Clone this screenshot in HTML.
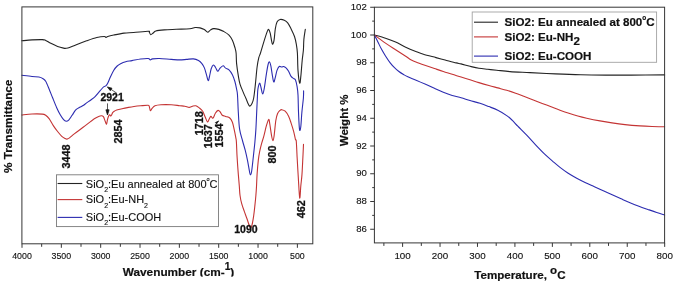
<!DOCTYPE html>
<html><head><meta charset="utf-8"><title>FTIR and TGA</title>
<style>html,body{margin:0;padding:0;background:#fff}svg{display:block;will-change:transform}text{font-family:"Liberation Sans",sans-serif;fill:#111;stroke:#111;stroke-width:.12px}.b{font-weight:bold;stroke-width:.2px}.pk{stroke:#111;stroke-width:.3px}</style>
</head><body>
<svg width="675" height="285" viewBox="0 0 675 285">
<rect x="0" y="0" width="675" height="285" fill="#fff"/>
<g fill="none" stroke-linejoin="round" stroke-linecap="round" stroke-width="1.1">
<path d="M21.80 40.80C23.50 40.65 28.58 40.10 32.00 39.90C35.42 39.70 40.02 39.52 42.30 39.60C44.58 39.68 44.28 39.78 45.70 40.40C47.12 41.02 48.82 42.30 50.80 43.30C52.78 44.30 55.47 45.60 57.60 46.40C59.73 47.20 62.18 47.78 63.60 48.10C65.02 48.42 65.12 48.38 66.10 48.30C67.08 48.22 67.80 48.20 69.50 47.60C71.20 47.00 73.45 45.83 76.30 44.70C79.15 43.57 83.18 42.00 86.60 40.80C90.02 39.60 93.83 38.22 96.80 37.50C99.77 36.78 102.85 36.50 104.40 36.50C105.95 36.50 105.53 37.50 106.10 37.50C106.67 37.50 106.52 36.92 107.80 36.50C109.08 36.08 111.10 35.57 113.80 35.00C116.50 34.43 120.70 33.52 124.00 33.10C127.30 32.68 129.58 32.80 133.60 32.50C137.62 32.20 145.48 31.37 148.10 31.30C150.72 31.23 148.87 31.53 149.30 32.10C149.73 32.67 150.05 34.55 150.70 34.70C151.35 34.85 152.35 33.62 153.20 33.00C154.05 32.38 153.95 31.52 155.80 31.00C157.65 30.48 160.90 30.18 164.30 29.90C167.70 29.62 171.95 29.50 176.20 29.30C180.45 29.10 186.67 29.00 189.80 28.70C192.93 28.40 193.30 27.63 195.00 27.50C196.70 27.37 198.45 27.55 200.00 27.90C201.55 28.25 203.02 28.88 204.30 29.60C205.58 30.32 206.70 32.12 207.70 32.20C208.70 32.28 209.30 30.70 210.30 30.10C211.30 29.50 212.28 28.72 213.70 28.60C215.12 28.48 217.10 28.90 218.80 29.40C220.50 29.90 222.20 30.65 223.90 31.60C225.60 32.55 227.58 33.65 229.00 35.10C230.42 36.55 231.42 38.23 232.40 40.30C233.38 42.37 234.28 45.38 234.90 47.50C235.52 49.62 235.82 50.32 236.10 53.00C236.38 55.68 236.23 59.83 236.60 63.60C236.97 67.37 237.73 72.18 238.30 75.60C238.87 79.02 239.15 81.27 240.00 84.10C240.85 86.93 242.40 90.20 243.40 92.60C244.40 95.00 245.28 96.82 246.00 98.50C246.72 100.18 247.08 101.43 247.70 102.70C248.32 103.97 248.98 105.97 249.70 106.10C250.42 106.23 251.33 104.85 252.00 103.50C252.67 102.15 253.13 101.23 253.70 98.00C254.27 94.77 254.83 89.27 255.40 84.10C255.97 78.93 256.53 71.40 257.10 67.00C257.67 62.60 258.23 60.03 258.80 57.70C259.37 55.37 259.65 55.68 260.50 53.00C261.35 50.32 262.77 45.20 263.90 41.60C265.03 38.00 266.50 33.43 267.30 31.40C268.10 29.37 268.22 29.12 268.70 29.40C269.18 29.68 269.72 31.20 270.20 33.10C270.68 35.00 271.18 38.95 271.60 40.80C272.02 42.65 272.28 44.35 272.70 44.20C273.12 44.05 273.67 42.45 274.10 39.90C274.53 37.35 274.82 31.88 275.30 28.90C275.78 25.92 276.20 23.57 277.00 22.00C277.80 20.43 278.88 19.78 280.10 19.50C281.32 19.22 283.03 19.73 284.30 20.30C285.57 20.87 286.57 21.47 287.70 22.90C288.83 24.33 289.97 26.63 291.10 28.90C292.23 31.17 293.63 33.95 294.50 36.50C295.37 39.05 295.82 41.45 296.30 44.20C296.78 46.95 297.12 48.63 297.40 53.00C297.68 57.37 297.62 65.37 298.00 70.40C298.38 75.43 299.22 82.33 299.70 83.20C300.18 84.07 300.48 79.43 300.90 75.60C301.32 71.77 301.78 64.47 302.20 60.20C302.62 55.93 303.12 53.52 303.40 50.00C303.68 46.48 303.58 42.53 303.90 39.10C304.22 35.67 305.07 31.02 305.30 29.40" stroke="#242424"/>
<path d="M21.80 75.30C23.50 75.50 29.15 76.22 32.00 76.50C34.85 76.78 37.05 76.63 38.90 77.00C40.75 77.37 41.97 77.98 43.10 78.70C44.23 79.42 44.70 79.58 45.70 81.30C46.70 83.02 47.97 86.30 49.10 89.00C50.23 91.70 51.23 94.38 52.50 97.50C53.77 100.62 55.43 104.87 56.70 107.70C57.97 110.53 58.95 112.52 60.10 114.50C61.25 116.48 62.60 118.47 63.60 119.60C64.60 120.73 65.25 121.22 66.10 121.30C66.95 121.38 67.70 121.10 68.70 120.10C69.70 119.10 70.97 116.95 72.10 115.30C73.23 113.65 74.37 111.47 75.50 110.20C76.63 108.93 77.63 108.48 78.90 107.70C80.17 106.92 81.82 106.30 83.10 105.50C84.38 104.70 85.32 103.82 86.60 102.90C87.88 101.98 89.38 101.05 90.80 100.00C92.22 98.95 93.53 98.15 95.10 96.60C96.67 95.05 98.78 92.32 100.20 90.70C101.62 89.08 102.62 87.75 103.60 86.90C104.58 86.05 105.40 86.25 106.10 85.60C106.80 84.95 107.08 84.43 107.80 83.00C108.52 81.57 109.40 79.13 110.40 77.00C111.40 74.87 112.67 72.03 113.80 70.20C114.93 68.37 116.07 67.08 117.20 66.00C118.33 64.92 119.18 64.42 120.60 63.70C122.02 62.98 123.80 62.22 125.70 61.70C127.60 61.18 129.52 61.05 132.00 60.60C134.48 60.15 137.90 59.35 140.60 59.00C143.30 58.65 146.58 58.35 148.20 58.50C149.82 58.65 149.58 59.83 150.30 59.90C151.02 59.97 151.00 59.13 152.50 58.90C154.00 58.67 156.18 58.42 159.30 58.50C162.42 58.58 167.80 59.17 171.20 59.40C174.60 59.63 177.13 59.90 179.70 59.90C182.27 59.90 184.32 59.57 186.60 59.40C188.88 59.23 191.42 58.70 193.40 58.90C195.38 59.10 197.08 59.82 198.50 60.60C199.92 61.38 200.92 62.38 201.90 63.60C202.88 64.82 203.60 65.90 204.40 67.90C205.20 69.90 206.07 73.47 206.70 75.60C207.33 77.73 207.73 80.55 208.20 80.70C208.67 80.85 209.00 78.50 209.50 76.50C210.00 74.50 210.55 70.62 211.20 68.70C211.85 66.78 212.70 65.25 213.40 65.00C214.10 64.75 214.67 66.15 215.40 67.20C216.13 68.25 217.08 71.07 217.80 71.30C218.52 71.53 218.82 69.52 219.70 68.60C220.58 67.68 222.12 65.88 223.10 65.80C224.08 65.72 224.62 67.43 225.60 68.10C226.58 68.77 227.87 68.70 229.00 69.80C230.13 70.90 231.42 72.75 232.40 74.70C233.38 76.65 234.20 79.08 234.90 81.50C235.60 83.92 236.17 86.95 236.60 89.20C237.03 91.45 237.22 91.20 237.50 95.00C237.78 98.80 237.95 106.32 238.30 112.00C238.65 117.68 238.88 124.27 239.60 129.10C240.32 133.93 241.67 137.48 242.60 141.00C243.53 144.52 244.38 146.97 245.20 150.20C246.02 153.43 246.78 156.85 247.50 160.40C248.22 163.95 249.02 169.08 249.50 171.50C249.98 173.92 250.05 174.90 250.40 174.90C250.75 174.90 251.12 174.48 251.60 171.50C252.08 168.52 252.75 161.92 253.30 157.00C253.85 152.08 254.47 146.65 254.90 142.00C255.33 137.35 255.60 134.10 255.90 129.10C256.20 124.10 256.45 117.35 256.70 112.00C256.95 106.65 257.20 100.80 257.40 97.00C257.60 93.20 257.53 91.50 257.90 89.20C258.27 86.90 259.08 83.48 259.60 83.20C260.12 82.92 260.48 85.70 261.00 87.50C261.52 89.30 262.13 94.00 262.70 94.00C263.27 94.00 263.78 90.85 264.40 87.50C265.02 84.15 265.78 77.73 266.40 73.90C267.02 70.07 267.58 66.50 268.10 64.50C268.62 62.50 269.03 61.62 269.50 61.90C269.97 62.18 270.42 63.92 270.90 66.20C271.38 68.48 271.92 72.97 272.40 75.60C272.88 78.23 273.32 81.72 273.80 82.00C274.28 82.28 274.77 79.23 275.30 77.30C275.83 75.37 276.35 72.20 277.00 70.40C277.65 68.60 278.40 67.07 279.20 66.50C280.00 65.93 281.08 67.00 281.80 67.00C282.52 67.00 282.80 66.35 283.50 66.50C284.20 66.65 285.15 67.10 286.00 67.90C286.85 68.70 287.75 69.88 288.60 71.30C289.45 72.72 290.25 75.18 291.10 76.40C291.95 77.62 292.98 78.03 293.70 78.60C294.42 79.17 294.83 78.47 295.40 79.80C295.97 81.13 296.67 84.07 297.10 86.60C297.53 89.13 297.77 90.77 298.00 95.00C298.23 99.23 298.28 106.60 298.50 112.00C298.72 117.40 299.05 124.33 299.30 127.40C299.55 130.47 299.73 130.68 300.00 130.40C300.27 130.12 300.58 128.77 300.90 125.70C301.22 122.63 301.48 116.62 301.90 112.00C302.32 107.38 303.12 101.52 303.40 98.00C303.68 94.48 303.57 92.08 303.60 90.90" stroke="#2c2cb0"/>
<path d="M21.80 115.00C23.50 114.83 28.58 114.15 32.00 114.00C35.42 113.85 40.02 113.88 42.30 114.10C44.58 114.32 44.57 114.53 45.70 115.30C46.83 116.07 47.83 116.98 49.10 118.70C50.37 120.42 51.88 123.47 53.30 125.60C54.72 127.73 56.18 129.72 57.60 131.50C59.02 133.28 60.52 135.12 61.80 136.30C63.08 137.48 64.43 138.13 65.30 138.60C66.17 139.07 66.30 139.22 67.00 139.10C67.70 138.98 68.23 138.82 69.50 137.90C70.77 136.98 72.33 135.37 74.60 133.60C76.87 131.83 80.25 129.45 83.10 127.30C85.95 125.15 89.45 122.32 91.70 120.70C93.95 119.08 95.03 118.42 96.60 117.60C98.17 116.78 99.97 115.95 101.10 115.80C102.23 115.65 102.72 115.78 103.40 116.70C104.08 117.62 104.67 120.07 105.20 121.30C105.73 122.53 106.22 124.40 106.60 124.10C106.98 123.80 107.12 120.92 107.50 119.50C107.88 118.08 108.52 116.38 108.90 115.60C109.28 114.82 109.50 114.73 109.80 114.80C110.10 114.87 110.40 115.95 110.70 116.00C111.00 116.05 111.30 115.62 111.60 115.10C111.90 114.58 112.12 113.50 112.50 112.90C112.88 112.30 113.20 111.97 113.90 111.50C114.60 111.03 115.33 110.57 116.70 110.10C118.07 109.63 120.13 109.15 122.10 108.70C124.07 108.25 126.52 107.77 128.50 107.40C130.48 107.03 131.98 106.77 134.00 106.50C136.02 106.23 138.23 106.00 140.60 105.80C142.97 105.60 146.73 105.10 148.20 105.30C149.67 105.50 149.03 106.08 149.40 107.00C149.77 107.92 149.95 110.57 150.40 110.80C150.85 111.03 151.33 109.23 152.10 108.40C152.87 107.57 153.52 106.40 155.00 105.80C156.48 105.20 158.30 104.97 161.00 104.80C163.70 104.63 168.08 104.65 171.20 104.80C174.32 104.95 177.43 105.47 179.70 105.70C181.97 105.93 183.23 105.92 184.80 106.20C186.37 106.48 187.82 107.40 189.10 107.40C190.38 107.40 191.37 106.47 192.50 106.20C193.63 105.93 194.77 105.52 195.90 105.80C197.03 106.08 198.17 106.98 199.30 107.90C200.43 108.82 201.70 109.73 202.70 111.30C203.70 112.87 204.50 115.52 205.30 117.30C206.10 119.08 206.85 121.72 207.50 122.00C208.15 122.28 208.63 119.93 209.20 119.00C209.77 118.07 210.27 116.55 210.90 116.40C211.53 116.25 212.23 118.67 213.00 118.10C213.77 117.53 214.65 114.28 215.50 113.00C216.35 111.72 217.30 110.55 218.10 110.40C218.90 110.25 219.60 111.30 220.30 112.10C221.00 112.90 221.40 114.48 222.30 115.20C223.20 115.92 224.45 115.93 225.70 116.40C226.95 116.87 228.68 117.02 229.80 118.00C230.92 118.98 231.68 120.45 232.40 122.30C233.12 124.15 233.53 126.55 234.10 129.10C234.67 131.65 235.42 135.45 235.80 137.60C236.18 139.75 236.18 138.77 236.40 142.00C236.62 145.23 236.78 151.65 237.10 157.00C237.42 162.35 237.93 169.27 238.30 174.10C238.67 178.93 239.02 182.48 239.30 186.00C239.58 189.52 239.60 192.25 240.00 195.20C240.40 198.15 240.98 201.00 241.70 203.70C242.42 206.40 243.45 208.98 244.30 211.40C245.15 213.82 246.00 215.93 246.80 218.20C247.60 220.47 248.50 223.43 249.10 225.00C249.70 226.57 249.92 227.60 250.40 227.60C250.88 227.60 251.45 226.98 252.00 225.00C252.55 223.02 253.22 218.97 253.70 215.70C254.18 212.43 254.53 208.82 254.90 205.40C255.27 201.98 255.63 198.35 255.90 195.20C256.17 192.05 256.30 190.02 256.50 186.50C256.70 182.98 256.80 178.45 257.10 174.10C257.40 169.75 257.88 164.10 258.30 160.40C258.72 156.70 259.03 154.77 259.60 151.90C260.17 149.03 260.98 145.87 261.70 143.20C262.42 140.53 263.12 138.82 263.90 135.90C264.68 132.98 265.60 128.45 266.40 125.70C267.20 122.95 268.13 119.68 268.70 119.40C269.27 119.12 269.32 121.25 269.80 124.00C270.28 126.75 271.08 133.12 271.60 135.90C272.12 138.68 272.48 140.70 272.90 140.70C273.32 140.70 273.62 139.25 274.10 135.90C274.58 132.55 275.23 124.30 275.80 120.60C276.37 116.90 276.78 115.42 277.50 113.70C278.22 111.98 279.38 110.97 280.10 110.30C280.82 109.63 280.95 109.55 281.80 109.70C282.65 109.85 284.07 110.10 285.20 111.20C286.33 112.30 287.62 114.32 288.60 116.30C289.58 118.28 290.25 120.55 291.10 123.10C291.95 125.65 292.98 128.90 293.70 131.60C294.42 134.30 294.97 137.65 295.40 139.30C295.83 140.95 296.02 138.55 296.30 141.50C296.58 144.45 296.77 151.00 297.10 157.00C297.43 163.00 297.87 170.67 298.30 177.50C298.73 184.33 299.28 196.58 299.70 198.00C300.12 199.42 300.42 189.98 300.80 186.00C301.18 182.02 301.65 178.93 302.00 174.10C302.35 169.27 302.65 161.97 302.90 157.00C303.15 152.03 303.40 146.42 303.50 144.30" stroke="#c43434"/>
</g>
<rect x="21.90" y="6.90" width="290.90" height="236.90" fill="none" stroke="#363636" stroke-width="1.0"/>
<path d="M22.00 243.80v4.0M41.67 243.80v3.0M61.34 243.80v4.0M81.01 243.80v3.0M100.68 243.80v4.0M120.35 243.80v3.0M140.02 243.80v4.0M159.69 243.80v3.0M179.36 243.80v4.0M199.03 243.80v3.0M218.70 243.80v4.0M238.37 243.80v3.0M258.04 243.80v4.0M277.71 243.80v3.0M297.38 243.80v4.0" stroke="#363636" stroke-width="1" fill="none"/>
<text x="22.00" y="258.8" font-size="8.8" text-anchor="middle">4000</text>
<text x="61.34" y="258.8" font-size="8.8" text-anchor="middle">3500</text>
<text x="100.68" y="258.8" font-size="8.8" text-anchor="middle">3000</text>
<text x="140.02" y="258.8" font-size="8.8" text-anchor="middle">2500</text>
<text x="179.36" y="258.8" font-size="8.8" text-anchor="middle">2000</text>
<text x="218.70" y="258.8" font-size="8.8" text-anchor="middle">1500</text>
<text x="258.04" y="258.8" font-size="8.8" text-anchor="middle">1000</text>
<text x="297.38" y="258.8" font-size="8.8" text-anchor="middle">500</text>
<text class="b" x="122.8" y="276.2" font-size="11.8">Wavenumber (cm-<tspan dy="-6.3" font-size="10.2">1</tspan><tspan dy="6.3">)</tspan></text>
<rect x="100" y="276.6" width="160" height="8.4" fill="#fff"/>
<text class="b" transform="translate(11.7,126.3) rotate(-90)" font-size="11.75" text-anchor="middle">% Transmittance</text>
<text class="b pk" transform="translate(70.07,156.50) rotate(-90)" font-size="10.8" text-anchor="middle">3448</text>
<text class="b pk" transform="translate(121.87,131.50) rotate(-90)" font-size="10.8" text-anchor="middle">2854</text>
<text class="b pk" transform="translate(203.07,123.30) rotate(-90)" font-size="10.8" text-anchor="middle">1718</text>
<text class="b pk" transform="translate(212.27,136.30) rotate(-90)" font-size="10.8" text-anchor="middle">1637</text>
<text class="b pk" transform="translate(222.67,135.50) rotate(-90)" font-size="10.8" text-anchor="middle">1554</text>
<text class="b pk" transform="translate(275.87,154.50) rotate(-90)" font-size="10.8" text-anchor="middle">800</text>
<text class="b pk" transform="translate(304.67,209.20) rotate(-90)" font-size="10.8" text-anchor="middle">462</text>
<text class="b pk" x="112.1" y="100.9" font-size="10.5" text-anchor="middle">2921</text>
<text class="b pk" x="245.9" y="232.5" font-size="10.5" text-anchor="middle">1090</text>
<g stroke="#111" stroke-width="0.7" fill="#111">
<path d="M116.8 93.2L110 88.7" fill="none"/><path d="M107.3 86.9L112.0 88.2L110.3 90.7Z"/>
<path d="M107.5 103.4V111" fill="none"/><path d="M107.5 115.0L105.9 109.8H109.1Z"/>
<path d="M218.7 120.9L215.4 122.6L216.6 123.9Z"/>
</g>
<rect x="56.5" y="174.8" width="162" height="51.8" fill="#fff" stroke="#7a7a7a" stroke-width="0.9"/>
<g stroke-width="1.1">
<path d="M57.6 183.5H82.3" stroke="#242424"/>
<path d="M57.6 199.6H82.3" stroke="#c43434"/>
<path d="M57.6 217.4H82.3" stroke="#2c2cb0"/>
</g>
<text x="85.8" y="187.5" font-size="11.0">SiO<tspan dy="4.2" font-size="7.0">2</tspan><tspan dy="-4.2">​</tspan>:Eu annealed at 800<tspan dy="-6.5" font-size="5.5">o</tspan><tspan dy="6.5">​</tspan>C</text>
<text x="85.8" y="203.3" font-size="11.0">SiO<tspan dy="4.2" font-size="7.0">2</tspan><tspan dy="-4.2">​</tspan>:Eu-NH<tspan dy="4.2" font-size="7.0">2</tspan><tspan dy="-4.2">​</tspan></text>
<text x="85.8" y="220.9" font-size="11.0">SiO<tspan dy="4.2" font-size="7.0">2</tspan><tspan dy="-4.2">​</tspan>:Eu-COOH</text>
<g fill="none" stroke-linejoin="round" stroke-linecap="round" stroke-width="1.1">
<path d="M374.40 35.00C376.25 35.53 381.97 37.03 385.50 38.20C389.03 39.37 392.23 40.50 395.60 42.00C398.97 43.50 402.33 45.62 405.70 47.20C409.07 48.78 412.85 50.32 415.80 51.50C418.75 52.68 420.03 53.28 423.40 54.30C426.77 55.32 432.38 56.65 436.00 57.60C439.62 58.55 441.73 59.12 445.10 60.00C448.47 60.88 453.53 62.25 456.20 62.90C458.87 63.55 458.80 63.33 461.10 63.90C463.40 64.47 467.03 65.57 470.00 66.30C472.97 67.03 475.93 67.80 478.90 68.30C481.87 68.80 484.83 68.98 487.80 69.30C490.77 69.62 493.00 69.82 496.70 70.20C500.40 70.58 504.45 71.20 510.00 71.60C515.55 72.00 522.42 72.22 530.00 72.60C537.58 72.98 547.03 73.53 555.50 73.90C563.97 74.27 572.38 74.60 580.80 74.80C589.22 75.00 597.63 75.05 606.00 75.10C614.37 75.15 621.23 75.13 631.00 75.10C640.77 75.07 659.00 74.93 664.60 74.90" stroke="#242424"/>
<path d="M374.40 35.00C376.25 36.35 381.97 40.65 385.50 43.10C389.03 45.55 392.23 47.52 395.60 49.70C398.97 51.88 403.08 54.48 405.70 56.20C408.32 57.92 409.17 58.88 411.30 60.00C413.43 61.12 416.12 61.98 418.50 62.90C420.88 63.82 422.95 64.57 425.60 65.50C428.25 66.43 431.45 67.50 434.40 68.50C437.35 69.50 440.33 70.55 443.30 71.50C446.27 72.45 449.23 73.27 452.20 74.20C455.17 75.13 458.13 76.17 461.10 77.10C464.07 78.03 467.03 78.88 470.00 79.80C472.97 80.72 475.75 81.65 478.90 82.60C482.05 83.55 485.75 84.62 488.90 85.50C492.05 86.38 494.83 87.10 497.80 87.90C500.77 88.70 503.73 89.42 506.70 90.30C509.67 91.18 512.65 92.15 515.60 93.20C518.55 94.25 521.45 95.47 524.40 96.60C527.35 97.73 530.33 98.87 533.30 100.00C536.27 101.13 539.23 102.27 542.20 103.40C545.17 104.53 548.13 105.67 551.10 106.80C554.07 107.93 557.03 109.12 560.00 110.20C562.97 111.28 565.93 112.33 568.90 113.30C571.87 114.27 574.83 115.18 577.80 116.00C580.77 116.82 583.00 117.38 586.70 118.20C590.40 119.02 595.78 120.12 600.00 120.90C604.22 121.68 607.83 122.28 612.00 122.90C616.17 123.52 620.33 124.10 625.00 124.60C629.67 125.10 635.50 125.58 640.00 125.90C644.50 126.22 647.90 126.35 652.00 126.50C656.10 126.65 662.50 126.75 664.60 126.80" stroke="#c43434"/>
<path d="M374.40 35.00C374.98 36.17 376.68 39.57 377.90 42.00C379.12 44.43 380.43 47.27 381.70 49.60C382.97 51.93 384.12 53.83 385.50 56.00C386.88 58.17 388.50 60.65 390.00 62.60C391.50 64.55 393.02 66.22 394.50 67.70C395.98 69.18 397.40 70.37 398.90 71.50C400.40 72.63 402.02 73.62 403.50 74.50C404.98 75.38 405.60 75.82 407.80 76.80C410.00 77.78 413.73 79.15 416.70 80.40C419.67 81.65 422.65 82.98 425.60 84.30C428.55 85.62 431.45 86.98 434.40 88.30C437.35 89.62 440.33 91.02 443.30 92.20C446.27 93.38 449.23 94.47 452.20 95.40C455.17 96.33 458.13 96.95 461.10 97.80C464.07 98.65 466.85 99.58 470.00 100.50C473.15 101.42 476.85 102.28 480.00 103.30C483.15 104.32 485.93 105.43 488.90 106.60C491.87 107.77 494.83 108.80 497.80 110.30C500.77 111.80 504.32 113.95 506.70 115.60C509.08 117.25 510.25 118.43 512.10 120.20C513.95 121.97 515.37 123.70 517.80 126.20C520.23 128.70 523.73 132.08 526.70 135.20C529.67 138.32 532.65 141.78 535.60 144.90C538.55 148.02 541.45 151.08 544.40 153.90C547.35 156.72 550.70 159.55 553.30 161.80C555.90 164.05 557.58 165.53 560.00 167.40C562.42 169.27 565.02 171.20 567.80 173.00C570.58 174.80 573.73 176.58 576.70 178.20C579.67 179.82 582.65 181.28 585.60 182.70C588.55 184.12 591.45 185.35 594.40 186.70C597.35 188.05 600.33 189.45 603.30 190.80C606.27 192.15 609.23 193.47 612.20 194.80C615.17 196.13 618.13 197.48 621.10 198.80C624.07 200.12 627.03 201.47 630.00 202.70C632.97 203.93 635.93 205.08 638.90 206.20C641.87 207.32 644.83 208.35 647.80 209.40C650.77 210.45 653.90 211.57 656.70 212.50C659.50 213.43 663.28 214.58 664.60 215.00" stroke="#2c2cb0"/>
</g>
<rect x="374.40" y="7.20" width="290.20" height="235.70" fill="none" stroke="#363636" stroke-width="1.0"/>
<path d="M374.40 229.25h-4.2M374.40 215.38h-2.2M374.40 201.50h-4.2M374.40 187.62h-2.2M374.40 173.75h-4.2M374.40 159.88h-2.2M374.40 146.00h-4.2M374.40 132.12h-2.2M374.40 118.25h-4.2M374.40 104.38h-2.2M374.40 90.50h-4.2M374.40 76.62h-2.2M374.40 62.75h-4.2M374.40 48.88h-2.2M374.40 35.00h-4.2M374.40 21.12h-2.2M374.40 7.25h-4.2M383.88 242.90v3.0M402.60 242.90v4.0M421.32 242.90v3.0M440.04 242.90v4.0M458.76 242.90v3.0M477.48 242.90v4.0M496.20 242.90v3.0M514.92 242.90v4.0M533.64 242.90v3.0M552.36 242.90v4.0M571.08 242.90v3.0M589.80 242.90v4.0M608.52 242.90v3.0M627.24 242.90v4.0M645.96 242.90v3.0M664.68 242.90v4.0" stroke="#363636" stroke-width="1" fill="none"/>
<text x="366.8" y="231.95" font-size="9.6" text-anchor="end">86</text>
<text x="366.8" y="204.20" font-size="9.6" text-anchor="end">88</text>
<text x="366.8" y="176.45" font-size="9.6" text-anchor="end">90</text>
<text x="366.8" y="148.70" font-size="9.6" text-anchor="end">92</text>
<text x="366.8" y="120.95" font-size="9.6" text-anchor="end">94</text>
<text x="366.8" y="93.20" font-size="9.6" text-anchor="end">96</text>
<text x="366.8" y="65.45" font-size="9.6" text-anchor="end">98</text>
<text x="366.8" y="37.70" font-size="9.6" text-anchor="end">100</text>
<text x="366.8" y="9.95" font-size="9.6" text-anchor="end">102</text>
<text x="402.60" y="259.0" font-size="9.8" text-anchor="middle">100</text>
<text x="440.04" y="259.0" font-size="9.8" text-anchor="middle">200</text>
<text x="477.48" y="259.0" font-size="9.8" text-anchor="middle">300</text>
<text x="514.92" y="259.0" font-size="9.8" text-anchor="middle">400</text>
<text x="552.36" y="259.0" font-size="9.8" text-anchor="middle">500</text>
<text x="589.80" y="259.0" font-size="9.8" text-anchor="middle">600</text>
<text x="627.24" y="259.0" font-size="9.8" text-anchor="middle">700</text>
<text x="664.68" y="259.0" font-size="9.8" text-anchor="middle">800</text>
<text class="b" x="474.3" y="279.3" font-size="11.6">Temperature, <tspan dy="-5.8">o</tspan><tspan dy="5.8">C</tspan></text>
<text class="b" transform="translate(348.4,120.35) rotate(-90)" font-size="11.6" text-anchor="middle">Weight %</text>
<rect x="472.2" y="12.0" width="184.4" height="50.3" fill="#fff" stroke="#a2a2a2" stroke-width="0.9"/>
<g stroke-width="1.1">
<path d="M474 22.2H498" stroke="#242424"/>
<path d="M474 36.9H498" stroke="#c43434"/>
<path d="M474 56.1H498" stroke="#2c2cb0"/>
</g>
<text class="b" x="504.6" y="26.3" font-size="11.58">SiO2: Eu annealed at 800<tspan dy="-6.8" font-size="6.5">o</tspan><tspan dy="6.8">C</tspan></text>
<text class="b" x="504.6" y="41.0" font-size="11.58">SiO2: Eu-NH<tspan dy="3.9" font-size="11.58">2</tspan></text>
<text class="b" x="504.6" y="59.9" font-size="11.58">SiO2: Eu-COOH</text>
</svg></body></html>
